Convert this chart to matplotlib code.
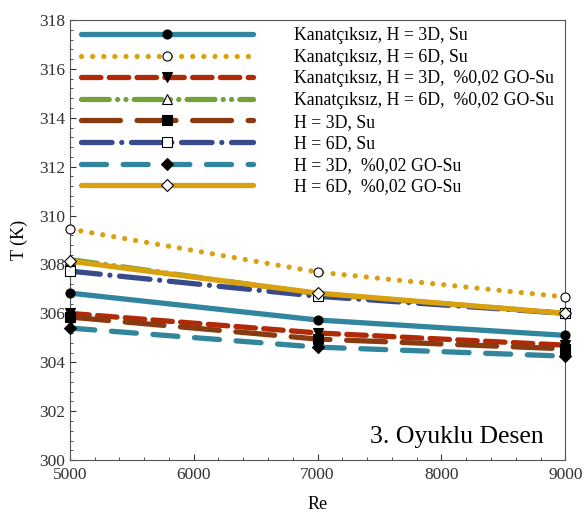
import matplotlib
matplotlib.use("Agg")
from matplotlib import pyplot as plt
from matplotlib.ticker import MultipleLocator
import numpy as np

plt.rcParams['font.family'] = ['Liberation Serif', 'DejaVu Serif']
plt.rcParams['lines.scale_dashes'] = False

# data
re = [5000, 7000, 9000]
labels = ["Kanatçıksız, H = 3D, Su",
          "Kanatçıksız, H = 6D, Su",
          "Kanatçıksız, H = 3D,  %0,02 GO-Su",
          "Kanatçıksız, H = 6D,  %0,02 GO-Su",
          "H = 3D, Su",
          "H = 6D, Su",
          "H = 3D,  %0,02 GO-Su",
          "H = 6D,  %0,02 GO-Su"]
t_k3_su = [306.83, 305.73, 305.10]
t_k6_su = [309.45, 307.69, 306.67]
t_k3_go = [306.00, 305.20, 304.70]
t_k6_go = [308.20, 306.80, 306.00]
t_h3_su = [305.85, 304.95, 304.55]
t_h6_su = [307.73, 306.70, 306.00]
t_h3_go = [305.40, 304.62, 304.25]
t_h6_go = [308.14, 306.83, 306.00]

series = [t_k3_su, t_k6_su, t_k3_go, t_k6_go, t_h3_su, t_h6_su, t_h3_go, t_h6_go]

# styles: color, dashes, marker, marker face
styles = [
    ('#31859C', '-',                        'o', 'black'),
    ('#D9A010', (0, (0.01, 8)),             'o', 'white'),
    ('#B02A08', (0, (14, 6)),               'v', 'black'),
    ('#76A03A', (0, (20, 6, 0.01, 6, 0.01, 6)), '^', 'white'),
    ('#8A3A10', (0, (28, 12)),              's', 'black'),
    ('#394A8A', (0, (22, 7, 0.01, 7)),      's', 'white'),
    ('#31859C', (0, (18, 12)),              'D', 'black'),
    ('#D9A010', '-',                        'D', 'white'),
]

fig = plt.figure(figsize=(5.87, 5.27), dpi=100)
ax = fig.add_axes([0.119, 0.127, 0.844, 0.835])

for y, lab, (c, ls, m, mf) in zip(series, labels, styles):
    ax.plot(re, y, color=c, linestyle=ls, lw=3.8, dash_capstyle='round',
            solid_capstyle='round', marker=m, markersize=6.5,
            markerfacecolor=mf, markeredgecolor='black', markeredgewidth=0.8,
            label=lab, clip_on=False, zorder=3)

ax.set_xlim(5000, 9000)
ax.set_ylim(300, 318)
ax.xaxis.set_major_locator(MultipleLocator(1000))
ax.xaxis.set_minor_locator(MultipleLocator(200))
ax.yaxis.set_major_locator(MultipleLocator(2))
ax.yaxis.set_minor_locator(MultipleLocator(0.4))
ax.tick_params(which='both', direction='in', labelsize=12.5, colors='#333333')
ax.tick_params(which='major', length=4)
ax.tick_params(which='minor', length=2)
ax.tick_params(axis='x', pad=5)
for sp in ax.spines.values():
    sp.set_color('#555555')

ax.set_xlabel('Re', fontsize=13, labelpad=9)
ax.set_ylabel('T (K)', fontsize=13, labelpad=8)

ax.text(0.956, 0.039, '3. Oyuklu Desen', transform=ax.transAxes,
        ha='right', va='baseline', fontsize=18.5)

ax.legend(loc='upper left', bbox_to_anchor=(0.008, 1.0), frameon=False,
          numpoints=1, handlelength=9.7, handletextpad=2.3,
          labelspacing=0.26, fontsize=12.8, borderaxespad=0.2, borderpad=0.2)

fig.savefig("out.png", dpi=100)
